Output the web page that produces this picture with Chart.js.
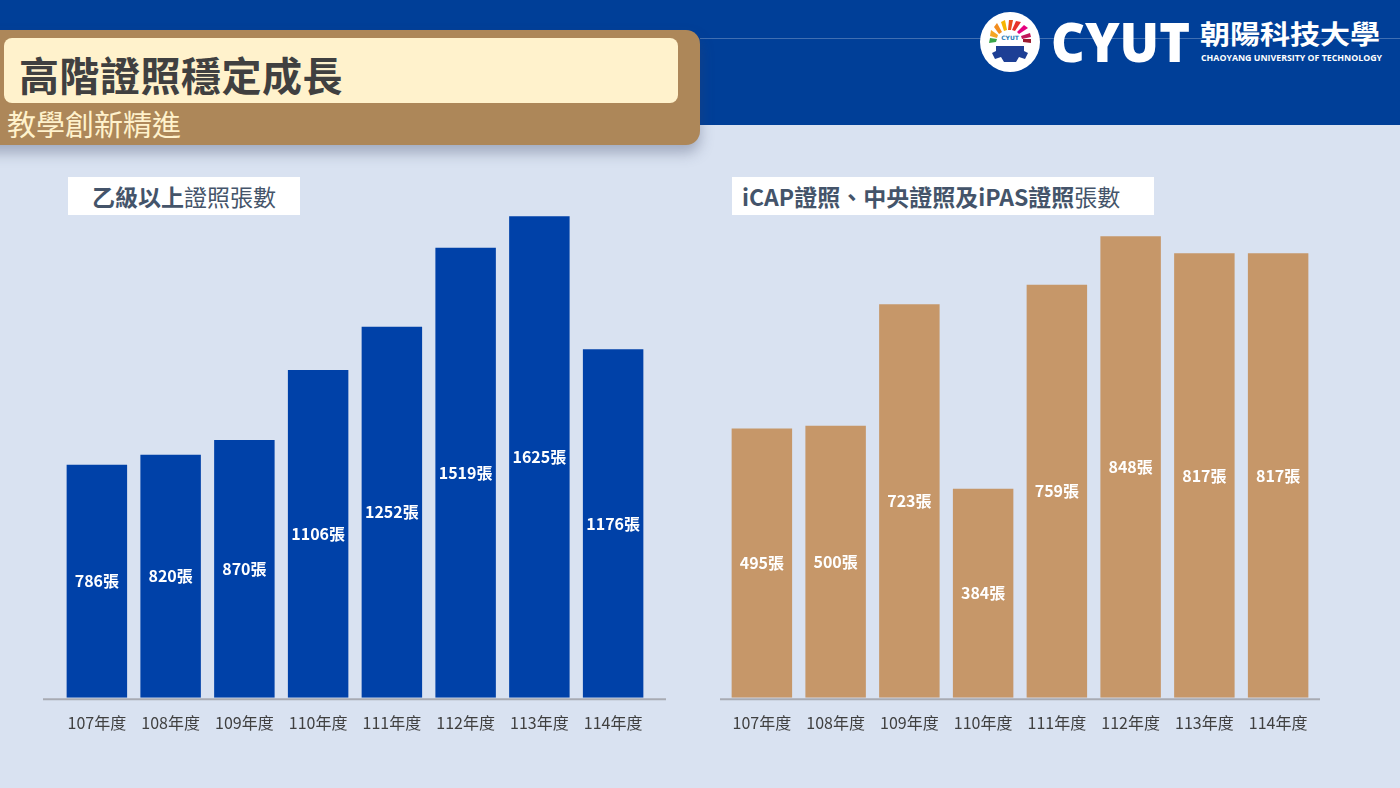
<!DOCTYPE html>
<html>
<head>
<meta charset="utf-8">
<script src="https://cdn.jsdelivr.net/npm/chart.js@4.4.1/dist/chart.umd.min.js"></script>
<style>
  body { margin: 0; width: 1400px; height: 788px; background: #d9e2f1; position: relative; overflow: hidden;
         font-family: "Noto Sans CJK TC", "Noto Sans", sans-serif; }
  .band { position: absolute; left: 0; top: 0; width: 1400px; height: 125px; background: #003f98; }
  .band-line { position: absolute; left: 700px; top: 38px; width: 700px; height: 1px; background: rgba(255,255,255,0.25); }
  .tan { position: absolute; left: -20px; top: 30px; width: 720px; height: 115px; background: #ad8759;
         border-radius: 0 14px 14px 0; box-shadow: 0 8px 14px rgba(60,70,100,0.35); }
  .cream { position: absolute; left: 4px; top: 38px; width: 674px; height: 65px; background: #fff2cc; border-radius: 8px; }
  .title { position: absolute; left: 19px; top: 49px; font-size: 40px; font-weight: 700; color: #404040; line-height: 50px; letter-spacing: 0.5px; }
  .sub { position: absolute; left: 7px; top: 105px; font-size: 29px; color: #fff2cc; line-height: 36px; }
  .logo { position: absolute; left: 980px; top: 12px; width: 60px; height: 60px; border-radius: 50%; background: #fff; }
  .cyut { position: absolute; left: 1051px; top: 6px; font-family: "Open Sans", "DejaVu Sans", sans-serif; font-weight: 800;
          font-size: 55px; color: #fff; line-height: 70px; transform: scaleX(0.95); transform-origin: left center; }
  .cname { position: absolute; left: 1200px; top: 16px; font-size: 30px; font-weight: 700; color: #fff; line-height: 38px;
           transform: scaleY(0.88); transform-origin: left top; }
  .ename { position: absolute; left: 1201px; top: 53px; font-size: 8.8px; font-weight: 700; color: #fff; line-height: 10px;
           font-family: "Open Sans", sans-serif; }
  .box { position: absolute; top: 177px; height: 38px; background: #fff; color: #44546a; font-size: 23px; line-height: 38px; }
  .box b { font-weight: 700; }
  canvas { position: absolute; }
</style>
</head>
<body>
<div class="band"></div>
<div class="band-line"></div>
<div class="tan"></div>
<div class="cream"></div>
<div class="title">高階證照穩定成長</div>
<div class="sub">教學創新精進</div>
<div class="logo">
  <svg width="60" height="60" viewBox="0 0 60 60">
    <g transform="translate(30,30)">
      <path d="M-20,-4 L-13,-3 L-14,0 L-21,1 Z" fill="#3aa64a"/>
      <path d="M-19,-12 L-12,-7 L-13,-4 L-20,-6 Z" fill="#f5a623"/>
      <path d="M-13,-19 L-8,-10 L-11,-8 L-16,-15 Z" fill="#f28c1e"/>
      <path d="M-5,-22 L-3,-12 L-6,-11 L-9,-20 Z" fill="#f7b500"/>
      <path d="M3,-22 L1,-12 L-2,-12 L-1,-22 Z" fill="#e94e1b"/>
      <path d="M11,-20 L5,-11 L2,-12 L6,-21 Z" fill="#e6332a"/>
      <path d="M18,-14 L9,-8 L7,-10 L14,-17 Z" fill="#e5007e"/>
      <path d="M21,-5 L12,-3 L11,-6 L20,-9 Z" fill="#c2185b"/>
      <path d="M21,1 L13,0 L13,-3 L21,-3 Z" fill="#9b1b30"/>
      <text x="0" y="-2" text-anchor="middle" font-size="6" font-weight="700" fill="#2a7ab8" font-family="DejaVu Sans">CYUT</text>
      <path d="M-14,4 L14,4 L14,9 L18,11 L15,17 L9,15 L6,20 L-6,20 L-9,15 L-15,17 L-18,11 L-14,9 Z" fill="#1d3f95"/>
    </g>
  </svg>
</div>
<div class="cyut">CYUT</div>
<div class="cname">朝陽科技大學</div>
<div class="ename">CHAOYANG UNIVERSITY OF TECHNOLOGY</div>
<div class="box" style="left:68px; width:232px; padding-left:24px; box-sizing:border-box;"><b>乙級以上</b>證照張數</div>
<div class="box" style="left:732px; width:422px; padding-left:10px; box-sizing:border-box;"><b>iCAP證照、中央證照及iPAS證照</b>張數</div>

<canvas id="c1" style="left:40px; top:194px;" width="630" height="547"></canvas>
<canvas id="c2" style="left:705px; top:208px;" width="630" height="533"></canvas>

<script>
var years = ['107年度', '108年度', '109年度', '110年度', '111年度', '112年度', '113年度', '114年度'];
var advancedCerts = [786, 820, 870, 1106, 1252, 1519, 1625, 1176];
var otherCerts = [495, 500, 723, 384, 759, 848, 817, 817];

// 柱內數字
var labelPlugin = {
    id: 'barLabels',
    afterDatasetsDraw: function (chart) {
        var ctx = chart.ctx;
        var meta = chart.getDatasetMeta(0);
        var data = chart.data.datasets[0].data;
        ctx.save();
        ctx.fillStyle = '#ffffff';
        ctx.font = 'bold 16px "Noto Sans CJK TC", sans-serif';
        ctx.textAlign = 'center';
        ctx.textBaseline = 'middle';
        meta.data.forEach(function (bar, i) {
            ctx.fillText(data[i] + '張', bar.x, (bar.y + bar.base) / 2);
        });
        ctx.restore();
    }
};

// 底線
var baseLine = {
    id: 'baseLine',
    afterDraw: function (chart, args, opts) {
        var a = chart.chartArea;
        var ctx = chart.ctx;
        ctx.save();
        ctx.strokeStyle = '#a8abb3';
        ctx.lineWidth = 2;
        ctx.beginPath();
        ctx.moveTo(a.left - opts.l, a.bottom + 1.5);
        ctx.lineTo(a.right + opts.r, a.bottom + 1.5);
        ctx.stroke();
        ctx.restore();
    }
};

function makeChart(id, values, color, max, ext) {
    var ctx = document.getElementById(id).getContext('2d');
    return new Chart(ctx, {
        type: 'bar',
        data: {
            labels: years,
            datasets: [{
                data: values,
                backgroundColor: color,
                categoryPercentage: 1,
                barPercentage: 0.82
            }]
        },
        options: {
            responsive: false,
            animation: false,
            layout: { padding: { left: 20, right: 20, top: 0, bottom: 0 } },
            plugins: { legend: { display: false }, tooltip: { enabled: false }, baseLine: ext },
            scales: {
                x: {
                    grid: { display: false },
                    border: { display: false },
                    ticks: {
                        color: '#404040',
                        font: { size: 16, family: '"Noto Sans CJK TC", sans-serif' },
                        padding: 8
                    }
                },
                y: { display: false, min: 0, max: max }
            }
        },
        plugins: [labelPlugin, baseLine]
    });
}

makeChart('c1', advancedCerts, '#0041a8', 1700, { l: 17, r: 16 });
makeChart('c2', otherCerts, '#c69769', 900, { l: 5, r: 5 });
</script>
</body>
</html>
